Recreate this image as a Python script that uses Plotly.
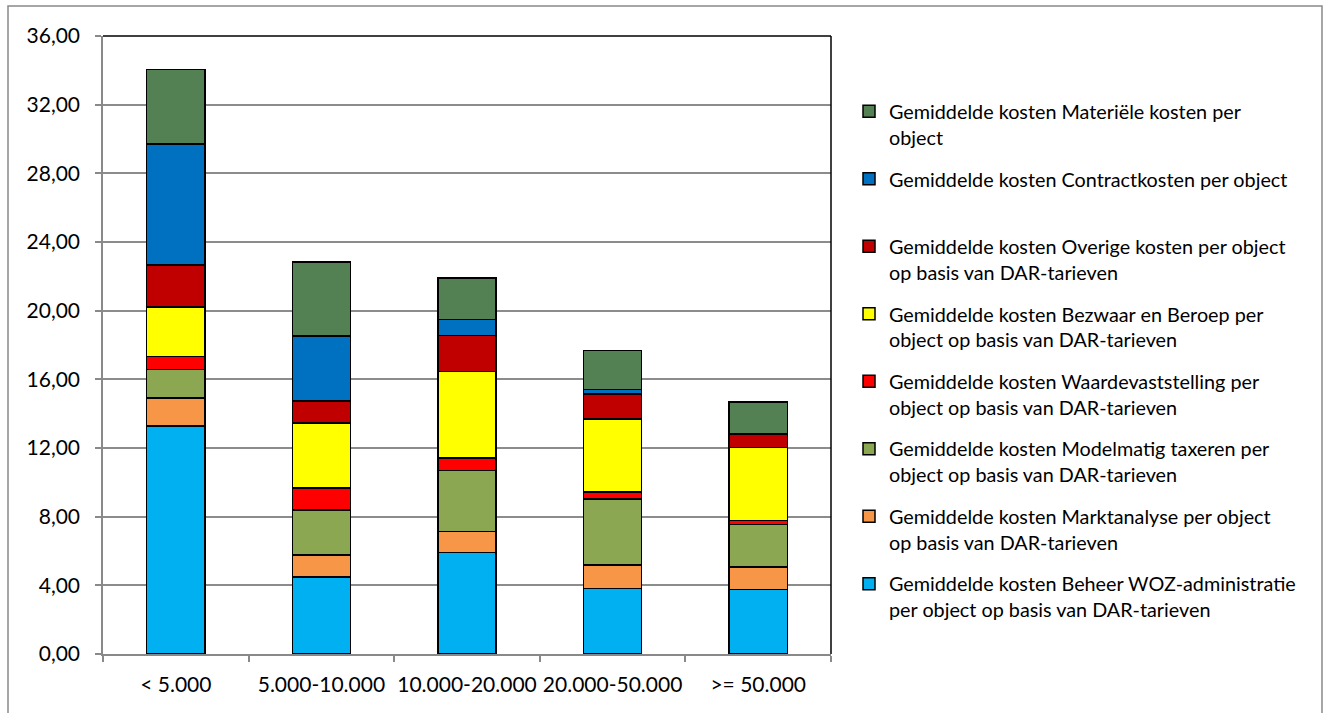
import plotly.graph_objects as go

# Municipality size classes (number of objects)
categories = ["< 5.000", "5.000-10.000", "10.000-20.000", "20.000-50.000", ">= 50.000"]

# Average cost per object, per cost component (bottom to top of each stack)
beheer = [13.28, 4.50, 5.92, 3.83, 3.75]
marktanalyse = [1.63, 1.27, 1.23, 1.35, 1.32]
modelmatig = [1.67, 2.62, 3.53, 3.85, 2.48]
waardevaststelling = [0.76, 1.28, 0.74, 0.41, 0.24]
bezwaar = [2.87, 3.79, 5.03, 4.25, 4.25]
overige = [2.46, 1.28, 2.09, 1.46, 0.79]
contract = [7.05, 3.77, 0.96, 0.27, 0.00]
materieel = [4.33, 4.32, 2.40, 2.27, 1.85]

series = [
    ("Gemiddelde kosten Beheer WOZ-administratie<br>per object op basis van DAR-tarieven", beheer, "#00B0F0"),
    ("Gemiddelde kosten Marktanalyse per object<br>op basis van DAR-tarieven", marktanalyse, "#F79646"),
    ("Gemiddelde kosten Modelmatig taxeren per<br>object op basis van DAR-tarieven", modelmatig, "#8BA752"),
    ("Gemiddelde kosten Waardevaststelling per<br>object op basis van DAR-tarieven", waardevaststelling, "#FF0000"),
    ("Gemiddelde kosten Bezwaar en Beroep per<br>object op basis van DAR-tarieven", bezwaar, "#FFFF00"),
    ("Gemiddelde kosten Overige kosten per object<br>op basis van DAR-tarieven", overige, "#C00000"),
    ("Gemiddelde kosten Contractkosten per object<br> ", contract, "#0070C0"),
    ("Gemiddelde kosten Materiële kosten per<br>object", materieel, "#538153"),
]

FONT = "Lato"
W, H = 1329, 713
ML, MR, MT, MB = 103, 498, 36, 59
PW, PH = W - ML - MR, H - MT - MB

fig = go.Figure()
n = len(series)
for i, (name, vals, color) in enumerate(series):
    fig.add_trace(go.Bar(
        x=categories, y=vals, name=name,
        legendgroup=f"g{i}", legendrank=n - i,
        marker=dict(color=color, line=dict(color="#000000", width=1.5)),
        width=0.4,
    ))

def px_x(p):
    return (p - ML) / PW

def px_y(p):
    return (H - MB - p) / PH

fig.update_layout(
    width=W, height=H,
    barmode="stack",
    separators=",.",
    paper_bgcolor="white", plot_bgcolor="white",
    margin=dict(l=ML, r=MR, t=MT, b=MB, autoexpand=False),
    font=dict(family=FONT, size=21, color="#000000"),
    showlegend=True,
    legend=dict(
        x=px_x(849), xanchor="left", y=px_y(92), yanchor="top",
        traceorder="grouped", tracegroupgap=13,
        valign="top", font=dict(family=FONT, size=19.8, color="#000000"),
        bgcolor="rgba(0,0,0,0)", borderwidth=0,
    ),
    xaxis=dict(
        showline=True, linecolor="#898989", linewidth=1.5,
        ticks="outside", tickson="boundaries", ticklen=6, tickcolor="#898989", tickwidth=1.5,
        showgrid=False, tickfont=dict(family=FONT, size=21),
        tickangle=0, automargin=False, ticklabelstandoff=11,
    ),
    yaxis=dict(
        range=[0, 36], dtick=4, tick0=0, tickformat=".2f",
        showline=True, linecolor="#898989", linewidth=1.5,
        ticks="outside", ticklen=6, tickcolor="#898989", tickwidth=1.5,
        showgrid=True, gridcolor="#8C8C8C", gridwidth=1.5,
        zeroline=False, tickfont=dict(family=FONT, size=21),
        ticklabelstandoff=11, automargin=False,
    ),
    shapes=[
        # plot-area frame on top and right
        dict(type="line", xref="paper", yref="paper", x0=0, x1=1, y0=1, y1=1,
             line=dict(color="#000000", width=1.5)),
        dict(type="line", xref="paper", yref="paper", x0=1, x1=1, y0=0, y1=1,
             line=dict(color="#000000", width=1.5)),
        # chart border
        dict(type="rect", xref="paper", yref="paper",
             x0=px_x(8), x1=px_x(1322), y0=px_y(716), y1=px_y(6),
             line=dict(color="#898989", width=1.5), fillcolor="rgba(0,0,0,0)"),
    ],
)

fig.write_html("out.html")
